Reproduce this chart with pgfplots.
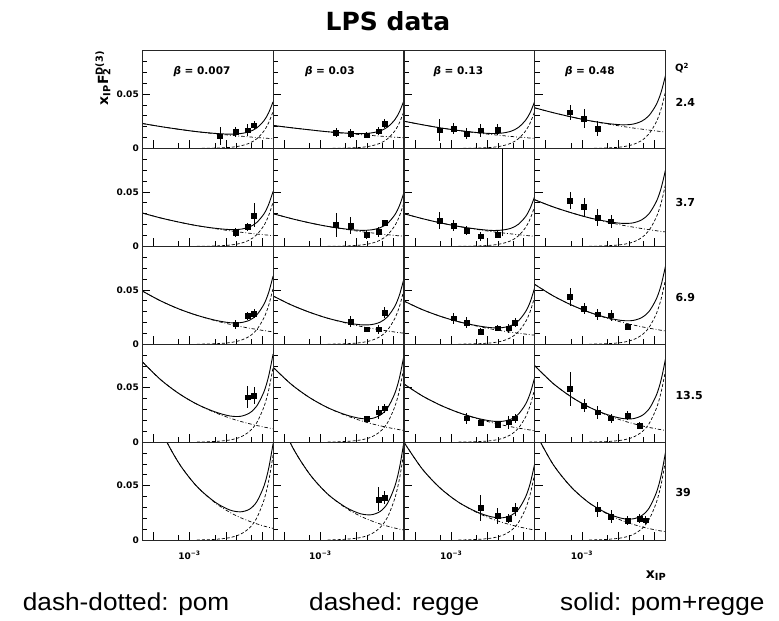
\documentclass[border=0pt]{standalone}
\usepackage{pgfplots}
\usepackage{pgfplotstable}
\pgfplotsset{compat=1.18}
\usepackage{fontspec}
\setmainfont{DejaVu Sans}
\newfontfamily\arial{Liberation Sans}[FakeStretch=1.07]

% ---------- model curves: x, pomeron, reggeon, sum ----------
\pgfplotstableread{
x pom reg tot
5e-5 0.0229 nan 0.0229
1.585e-4 0.0201 nan 0.0201
5.012e-4 0.0176 nan 0.0176
1.585e-3 0.0154 0 0.0154
5.012e-3 0.0135 0.0003 0.0138
0.01259 0.0122 0.0009 0.0131
0.02512 0.0113 0.0023 0.0136
0.04467 0.0106 0.0048 0.0154
0.07079 0.0100 0.0088 0.0188
0.1122 0.0095 0.0160 0.0255
0.1514 0.0092 0.0237 0.0329
0.2 0.0089 0.0340 0.0429
}\CurvAA
\pgfplotstableread{
x pom reg tot
5e-5 0.0211 nan 0.0211
1.585e-4 0.0190 nan 0.0190
5.012e-4 0.0171 nan 0.0171
1.585e-3 0.0153 0 0.0153
5.012e-3 0.0138 0.0003 0.0141
0.01259 0.0127 0.0009 0.0136
0.02512 0.0119 0.0023 0.0142
0.04467 0.0113 0.0048 0.0161
0.07079 0.0108 0.0088 0.0196
0.1122 0.0103 0.0160 0.0263
0.1514 0.0101 0.0237 0.0338
0.2 0.0098 0.0340 0.0438
}\CurvAB
\pgfplotstableread{
x pom reg tot
5e-5 0.0250 nan 0.0250
1.585e-4 0.0218 nan 0.0218
5.012e-4 0.0189 nan 0.0189
1.585e-3 0.0165 0 0.0165
5.012e-3 0.0143 0.0003 0.0146
0.01259 0.0128 0.0009 0.0137
0.02512 0.0118 0.0023 0.0141
0.04467 0.0110 0.0048 0.0158
0.07079 0.0104 0.0088 0.0192
0.1122 0.0099 0.0160 0.0259
0.1514 0.0095 0.0237 0.0332
0.2 0.0092 0.0340 0.0432
}\CurvAC
\pgfplotstableread{
x pom reg tot
5e-5 0.0373 nan 0.0373
1.585e-4 0.0329 nan 0.0329
5.012e-4 0.0290 nan 0.0290
1.585e-3 0.0255 0 0.0255
5.012e-3 0.0225 0.0004 0.0229
0.01259 0.0203 0.0014 0.0217
0.02512 0.0188 0.0035 0.0223
0.04467 0.0177 0.0074 0.0251
0.07079 0.0168 0.0135 0.0303
0.1122 0.0160 0.0245 0.0405
0.1514 0.0155 0.0362 0.0517
0.2 0.0150 0.0520 0.0670
}\CurvAD
\pgfplotstableread{
x pom reg tot
5e-5 0.0306 nan 0.0306
1.585e-4 0.0261 nan 0.0261
5.012e-4 0.0223 nan 0.0223
1.585e-3 0.0190 0 0.0190
5.012e-3 0.0163 0.0003 0.0166
0.01259 0.0143 0.0011 0.0154
0.02512 0.0130 0.0027 0.0157
0.04467 0.0120 0.0058 0.0178
0.07079 0.0113 0.0106 0.0219
0.1122 0.0106 0.0192 0.0298
0.1514 0.0102 0.0284 0.0386
0.2 0.0098 0.0407 0.0505
}\CurvBA
\pgfplotstableread{
x pom reg tot
5e-5 0.0300 nan 0.0300
1.585e-4 0.0255 nan 0.0255
5.012e-4 0.0216 nan 0.0216
1.585e-3 0.0183 0 0.0183
5.012e-3 0.0156 0.0003 0.0159
0.01259 0.0136 0.0011 0.0147
0.02512 0.0124 0.0027 0.0151
0.04467 0.0114 0.0057 0.0171
0.07079 0.0107 0.0104 0.0211
0.1122 0.0100 0.0189 0.0289
0.1514 0.0096 0.0279 0.0375
0.2 0.0092 0.0400 0.0492
}\CurvBB
\pgfplotstableread{
x pom reg tot
5e-5 0.0300 nan 0.0300
1.585e-4 0.0255 nan 0.0255
5.012e-4 0.0216 nan 0.0216
1.585e-3 0.0183 0 0.0183
5.012e-3 0.0156 0.0003 0.0159
0.01259 0.0136 0.0010 0.0146
0.02512 0.0124 0.0025 0.0149
0.04467 0.0114 0.0052 0.0166
0.07079 0.0107 0.0095 0.0202
0.1122 0.0100 0.0173 0.0273
0.1514 0.0096 0.0256 0.0352
0.2 0.0092 0.0367 0.0459
}\CurvBC
\pgfplotstableread{
x pom reg tot
5e-5 0.0428 nan 0.0428
1.585e-4 0.0363 nan 0.0363
5.012e-4 0.0309 nan 0.0309
1.585e-3 0.0262 0 0.0262
5.012e-3 0.0223 0.0005 0.0228
0.01259 0.0195 0.0016 0.0211
0.02512 0.0177 0.0038 0.0215
0.04467 0.0163 0.0081 0.0244
0.07079 0.0153 0.0148 0.0301
0.1122 0.0143 0.0269 0.0412
0.1514 0.0137 0.0397 0.0534
0.2 0.0132 0.0570 0.0702
}\CurvBD
\pgfplotstableread{
x pom reg tot
5e-5 0.0489 nan 0.0489
1.585e-4 0.0399 nan 0.0399
5.012e-4 0.0325 nan 0.0325
1.585e-3 0.0266 0 0.0266
5.012e-3 0.0217 0.0004 0.0221
0.01259 0.0184 0.0014 0.0198
0.02512 0.0163 0.0035 0.0198
0.04467 0.0147 0.0073 0.0220
0.07079 0.0136 0.0133 0.0269
0.1122 0.0125 0.0243 0.0368
0.1514 0.0119 0.0358 0.0477
0.2 0.0113 0.0514 0.0627
}\CurvCA
\pgfplotstableread{
x pom reg tot
5e-5 0.0443 nan 0.0443
1.585e-4 0.0361 nan 0.0361
5.012e-4 0.0294 nan 0.0294
1.585e-3 0.0239 0 0.0239
5.012e-3 0.0195 0.0004 0.0199
0.01259 0.0165 0.0014 0.0179
0.02512 0.0146 0.0034 0.0180
0.04467 0.0132 0.0071 0.0203
0.07079 0.0122 0.0130 0.0252
0.1122 0.0112 0.0236 0.0348
0.1514 0.0106 0.0348 0.0454
0.2 0.0101 0.0500 0.0601
}\CurvCB
\pgfplotstableread{
x pom reg tot
5e-5 0.0397 nan 0.0397
1.585e-4 0.0319 nan 0.0319
5.012e-4 0.0257 nan 0.0257
1.585e-3 0.0207 0 0.0207
5.012e-3 0.0167 0.0004 0.0171
0.01259 0.0140 0.0012 0.0152
0.02512 0.0123 0.0029 0.0152
0.04467 0.0110 0.0062 0.0172
0.07079 0.0101 0.0113 0.0214
0.1122 0.0093 0.0206 0.0299
0.1514 0.0087 0.0304 0.0391
0.2 0.0083 0.0437 0.0520
}\CurvCC
\pgfplotstableread{
x pom reg tot
5e-5 0.0550 nan 0.0550
1.585e-4 0.0446 nan 0.0446
5.012e-4 0.0362 nan 0.0362
1.585e-3 0.0294 0 0.0294
5.012e-3 0.0238 0.0005 0.0243
0.01259 0.0202 0.0016 0.0218
0.02512 0.0178 0.0040 0.0218
0.04467 0.0160 0.0085 0.0245
0.07079 0.0147 0.0155 0.0302
0.1122 0.0136 0.0281 0.0417
0.1514 0.0128 0.0415 0.0543
0.2 0.0122 0.0596 0.0718
}\CurvCD
\pgfplotstableread{
x pom reg tot
5e-5 0.0739 nan 0.0739
1.585e-4 0.0575 nan 0.0575
5.012e-4 0.0448 nan 0.0448
1.585e-3 0.0349 0 0.0349
5.012e-3 0.0272 0.0006 0.0278
0.01259 0.0222 0.0019 0.0241
0.02512 0.0191 0.0046 0.0237
0.04467 0.0169 0.0098 0.0267
0.07079 0.0153 0.0178 0.0331
0.1122 0.0138 0.0325 0.0463
0.1514 0.0130 0.0479 0.0609
0.2 0.0122 0.0688 0.0810
}\CurvDA
\pgfplotstableread{
x pom reg tot
5e-5 0.0688 nan 0.0688
1.585e-4 0.0531 nan 0.0531
5.012e-4 0.0410 nan 0.0410
1.585e-3 0.0317 0 0.0317
5.012e-3 0.0245 0.0006 0.0251
0.01259 0.0199 0.0019 0.0218
0.02512 0.0170 0.0046 0.0216
0.04467 0.0150 0.0098 0.0248
0.07079 0.0135 0.0178 0.0313
0.1122 0.0122 0.0325 0.0447
0.1514 0.0114 0.0479 0.0593
0.2 0.0107 0.0688 0.0795
}\CurvDB
\pgfplotstableread{
x pom reg tot
5e-5 0.0535 nan 0.0535
1.585e-4 0.0426 nan 0.0426
5.012e-4 0.0340 nan 0.0340
1.585e-3 0.0272 0 0.0272
5.012e-3 0.0217 0.0004 0.0221
0.01259 0.0181 0.0013 0.0194
0.02512 0.0158 0.0033 0.0191
0.04467 0.0141 0.0070 0.0211
0.07079 0.0129 0.0127 0.0256
0.1122 0.0118 0.0231 0.0349
0.1514 0.0111 0.0341 0.0452
0.2 0.0105 0.0490 0.0595
}\CurvDC
\pgfplotstableread{
x pom reg tot
5e-5 0.0703 nan 0.0703
1.585e-4 0.0541 nan 0.0541
5.012e-4 0.0417 nan 0.0417
1.585e-3 0.0321 0 0.0321
5.012e-3 0.0247 0.0005 0.0252
0.01259 0.0200 0.0018 0.0218
0.02512 0.0171 0.0044 0.0215
0.04467 0.0150 0.0094 0.0244
0.07079 0.0135 0.0170 0.0305
0.1122 0.0122 0.0310 0.0432
0.1514 0.0114 0.0458 0.0572
0.2 0.0107 0.0657 0.0764
}\CurvDD
\pgfplotstableread{
x pom reg tot
5e-5 0.147 nan 0.147
1.585e-4 0.1021 nan 0.1021
5.012e-4 0.0710 nan 0.0710
1.585e-3 0.0493 0 0.0493
5.012e-3 0.0343 0.0006 0.0349
0.01259 0.0256 0.0021 0.0277
0.02512 0.0206 0.0053 0.0259
0.04467 0.0172 0.0111 0.0283
0.07079 0.0149 0.0202 0.0351
0.1122 0.0128 0.0368 0.0496
0.1514 0.0117 0.0543 0.0660
0.2 0.0107 0.0780 0.0887
}\CurvEA
\pgfplotstableread{
x pom reg tot
5e-5 0.126 nan 0.126
1.585e-4 0.0875 nan 0.0875
5.012e-4 0.0608 nan 0.0608
1.585e-3 0.0423 0 0.0423
5.012e-3 0.0294 0.0007 0.0301
0.01259 0.0220 0.0022 0.0242
0.02512 0.0177 0.0055 0.0232
0.04467 0.0147 0.0116 0.0263
0.07079 0.0127 0.0210 0.0337
0.1122 0.0110 0.0382 0.0492
0.1514 0.0100 0.0564 0.0664
0.2 0.0092 0.0810 0.0902
}\CurvEB
\pgfplotstableread{
x pom reg tot
5e-5 0.0900 nan 0.0900
1.585e-4 0.0655 nan 0.0655
5.012e-4 0.0477 nan 0.0477
1.585e-3 0.0348 0 0.0348
5.012e-3 0.0254 0.0005 0.0259
0.01259 0.0197 0.0017 0.0214
0.02512 0.0163 0.0041 0.0204
0.04467 0.0139 0.0087 0.0226
0.07079 0.0122 0.0158 0.0280
0.1122 0.0108 0.0288 0.0396
0.1514 0.0099 0.0425 0.0524
0.2 0.0092 0.0610 0.0702
}\CurvEC
\pgfplotstableread{
x pom reg tot
5e-5 0.0999 nan 0.0999
1.585e-4 0.0698 nan 0.0698
5.012e-4 0.0488 nan 0.0488
1.585e-3 0.0341 0 0.0341
5.012e-3 0.0239 0.0006 0.0245
0.01259 0.0179 0.0020 0.0199
0.02512 0.0145 0.0049 0.0194
0.04467 0.0121 0.0104 0.0225
0.07079 0.0105 0.0189 0.0294
0.1122 0.0091 0.0345 0.0436
0.1514 0.0083 0.0509 0.0592
0.2 0.0076 0.0730 0.0806
}\CurvED

% ---------- measured points: x, value, error ----------
\pgfplotstableread{
x y e
6.9e-3 0.0113 0.008
0.0187 0.0153 0.0046
0.0401 0.0168 0.0055
0.0597 0.0214 0.004
}\DataAA
\pgfplotstableread{
x y e
2.7e-3 0.0144 0.004
6.9e-3 0.0138 0.004
0.019 0.0122 0.003
0.0405 0.0159 0.004
0.0593 0.0229 0.004
}\DataAB
\pgfplotstableread{
x y e
4.9e-4 0.0168 0.010
1.15e-3 0.0180 0.005
2.7e-3 0.0135 0.005
6.5e-3 0.0168 0.006
0.0187 0.0174 0.005
}\DataAC
\pgfplotstableread{
x y e
4.7e-4 0.0333 0.007
1.14e-3 0.0275 0.009
2.65e-3 0.0183 0.007
}\DataAD
\pgfplotstableread{
x y e
0.0187 0.0128 0.004
0.040 0.0178 0.004
0.0597 0.0284 0.011
}\DataBA
\pgfplotstableread{
x y e
2.7e-3 0.0199 0.011
6.9e-3 0.0193 0.008
0.019 0.0107 0.004
0.0405 0.0132 0.005
0.0593 0.0214 0.003
}\DataBB
\pgfplotstableread{
x y e
4.9e-4 0.0236 0.008
1.15e-3 0.0193 0.005
2.7e-3 0.0147 0.004
6.5e-3 0.0092 0.004
0.0187 0.0107 0.003
}\DataBC
\pgfplotstableread{
x y e
4.7e-4 0.0420 0.008
1.14e-3 0.0361 0.008
2.65e-3 0.0266 0.008
6.3e-3 0.0230 0.006
}\DataBD
\pgfplotstableread{
x y e
0.0187 0.0183 0.004
0.040 0.0260 0.004
0.0597 0.0281 0.004
}\DataCA
\pgfplotstableread{
x y e
6.9e-3 0.0205 0.005
0.019 0.0138 0.002
0.0405 0.0138 0.004
0.0593 0.0290 0.005
}\DataCB
\pgfplotstableread{
x y e
1.15e-3 0.0239 0.005
2.7e-3 0.0199 0.005
6.5e-3 0.0117 0.003
0.0187 0.0147 0.003
0.0376 0.0147 0.004
0.0575 0.0199 0.004
}\DataCC
\pgfplotstableread{
x y e
4.7e-4 0.0434 0.008
1.14e-3 0.0327 0.005
2.65e-3 0.0275 0.005
6.3e-3 0.0266 0.005
0.0178 0.0159 0.003
}\DataCD
\pgfplotstableread{
x y e
0.040 0.0413 0.010
0.0597 0.0428 0.008
}\DataDA
\pgfplotstableread{
x y e
0.019 0.0214 0.003
0.0405 0.0275 0.006
0.0593 0.0312 0.004
}\DataDB
\pgfplotstableread{
x y e
2.7e-3 0.0220 0.005
6.5e-3 0.0177 0.003
0.0187 0.0162 0.003
0.0376 0.0183 0.006
0.0575 0.0220 0.004
}\DataDC
\pgfplotstableread{
x y e
4.7e-4 0.0489 0.016
1.14e-3 0.0336 0.006
2.65e-3 0.0275 0.006
6.3e-3 0.0220 0.004
0.0178 0.0244 0.004
0.0381 0.0153 0.003
}\DataDD
\pgfplotstableread{
x y e
0.0405 0.0373 0.011
0.0593 0.0388 0.006
}\DataEB
\pgfplotstableread{
x y e
6.5e-3 0.0297 0.012
0.0187 0.0220 0.007
0.0376 0.0199 0.004
0.0575 0.0284 0.006
}\DataEC
\pgfplotstableread{
x y e
2.65e-3 0.0284 0.007
6.3e-3 0.0214 0.006
0.0178 0.0177 0.004
0.0381 0.0199 0.004
0.0571 0.0183 0.004
}\DataED

\newcommand{\tickfont}{\fontsize{9}{10}\selectfont\bfseries}

\pgfplotsset{
  every axis/.append style={
    scale only axis, width=130.8pt, height=97.9pt, anchor=north west,
    xmin=5e-5, xmax=0.2, ymin=0, ymax=0.09,
    xtick={1e-4,1e-3,1e-2,1e-1}, minor xtick={5e-4,5e-3,2e-2,5e-2},
    ytick={0,0.05}, minor ytick={0.01,0.02,0.03,0.04,0.06,0.07,0.08},
    xticklabels={}, yticklabels={}, scaled y ticks=false,
    xtick pos=bottom, ytick pos=left, tick align=inside,
    major tick length=8pt, minor tick length=5pt,
    tick style={black, line width=0.6pt},
    axis line style={line width=0.8pt, black!85},
    tick label style={font=\tickfont},
    axis on top,
  },
}

\newcommand{\curves}[1]{%
  \addplot[black, line width=0.7pt, smooth, dash pattern=on 3.5pt off 2pt on 0.8pt off 2pt]
    table[x=x,y=pom] {#1};
  \addplot[black, line width=0.7pt, smooth, dash pattern=on 3pt off 2pt]
    table[x=x,y=reg] {#1};
  \addplot[black, line width=0.9pt, smooth] table[x=x,y=tot] {#1};}
\newcommand{\points}[1]{%
  \addplot[black, only marks, mark=square*, mark size=2.4pt,
    error bars/.cd, y dir=both, y explicit, error mark=none,
    error bar style={line width=0.8pt}]
    table[x=x,y=y,y error=e] {#1};}

\begin{document}
\begin{tikzpicture}
\useasboundingbox (0,0) rectangle (779pt,-621pt);

% row 1: Q^2 = 2.4
\begin{semilogxaxis}[at={(142.3pt,-50.5pt)}, yticklabels={0,0.05}]
  \curves{\CurvAA}\points{\DataAA}
\end{semilogxaxis}
\begin{semilogxaxis}[at={(273.1pt,-50.5pt)}]
  \curves{\CurvAB}\points{\DataAB}
\end{semilogxaxis}
\begin{semilogxaxis}[at={(403.9pt,-50.5pt)}]
  \curves{\CurvAC}\points{\DataAC}
\end{semilogxaxis}
\begin{semilogxaxis}[at={(534.7pt,-50.5pt)}]
  \curves{\CurvAD}\points{\DataAD}
\end{semilogxaxis}

% row 2: Q^2 = 3.7
\begin{semilogxaxis}[at={(142.3pt,-148.4pt)}, yticklabels={0,0.05}]
  \curves{\CurvBA}\points{\DataBA}
\end{semilogxaxis}
\begin{semilogxaxis}[at={(273.1pt,-148.4pt)}]
  \curves{\CurvBB}\points{\DataBB}
\end{semilogxaxis}
\begin{semilogxaxis}[at={(403.9pt,-148.4pt)}]
  \curves{\CurvBC}\points{\DataBC}
  % point whose error bar runs off the top of the panel
  \addplot[black, line width=0.8pt] coordinates {(0.0264,0.0092) (0.0264,0.09)};
\end{semilogxaxis}
\begin{semilogxaxis}[at={(534.7pt,-148.4pt)}]
  \curves{\CurvBD}\points{\DataBD}
\end{semilogxaxis}

% row 3: Q^2 = 6.9
\begin{semilogxaxis}[at={(142.3pt,-246.3pt)}, yticklabels={0,0.05}]
  \curves{\CurvCA}\points{\DataCA}
\end{semilogxaxis}
\begin{semilogxaxis}[at={(273.1pt,-246.3pt)}]
  \curves{\CurvCB}\points{\DataCB}
\end{semilogxaxis}
\begin{semilogxaxis}[at={(403.9pt,-246.3pt)}]
  \curves{\CurvCC}\points{\DataCC}
\end{semilogxaxis}
\begin{semilogxaxis}[at={(534.7pt,-246.3pt)}]
  \curves{\CurvCD}\points{\DataCD}
\end{semilogxaxis}

% row 4: Q^2 = 13.5
\begin{semilogxaxis}[at={(142.3pt,-344.2pt)}, yticklabels={0,0.05}]
  \curves{\CurvDA}\points{\DataDA}
\end{semilogxaxis}
\begin{semilogxaxis}[at={(273.1pt,-344.2pt)}]
  \curves{\CurvDB}\points{\DataDB}
\end{semilogxaxis}
\begin{semilogxaxis}[at={(403.9pt,-344.2pt)}]
  \curves{\CurvDC}\points{\DataDC}
\end{semilogxaxis}
\begin{semilogxaxis}[at={(534.7pt,-344.2pt)}]
  \curves{\CurvDD}\points{\DataDD}
\end{semilogxaxis}

% row 5: Q^2 = 39
\begin{semilogxaxis}[at={(142.3pt,-442.1pt)}, yticklabels={0,0.05},
    xticklabels={,10\textsuperscript{−3},,}, xticklabel style={yshift=-8pt}]
  \curves{\CurvEA}
\end{semilogxaxis}
\begin{semilogxaxis}[at={(273.1pt,-442.1pt)},
    xticklabels={,10\textsuperscript{−3},,}, xticklabel style={yshift=-8pt}]
  \curves{\CurvEB}\points{\DataEB}
\end{semilogxaxis}
\begin{semilogxaxis}[at={(403.9pt,-442.1pt)},
    xticklabels={,10\textsuperscript{−3},,}, xticklabel style={yshift=-8pt}]
  \curves{\CurvEC}\points{\DataEC}
\end{semilogxaxis}
\begin{semilogxaxis}[at={(534.7pt,-442.1pt)},
    xticklabels={,10\textsuperscript{−3},,}, xticklabel style={yshift=-8pt}]
  \curves{\CurvED}\points{\DataED}
\end{semilogxaxis}

% title and annotations
\node[anchor=base, font=\fontsize{25}{30}\selectfont\bfseries] at (388pt,-30pt) {LPS data};

\begin{scope}[every node/.style={anchor=west, font=\fontsize{10.5}{12}\selectfont\bfseries}]
  \node at (170pt,-72pt) {\textit{β} = 0.007};
  \node at (301.5pt,-72pt) {\textit{β} = 0.03};
  \node at (430pt,-72pt) {\textit{β} = 0.13};
  \node at (561.5pt,-72pt) {\textit{β} = 0.48};
\end{scope}

\begin{scope}[every node/.style={anchor=west, font=\fontsize{11}{13}\selectfont\bfseries}]
  \node at (672pt,-102pt) {2.4};
  \node at (672pt,-202.5pt) {3.7};
  \node at (672pt,-297.5pt) {6.9};
  \node at (672pt,-395.5pt) {13.5};
  \node at (672pt,-492pt) {39};
\end{scope}
\node[font=\fontsize{10}{11}\selectfont\bfseries] at (682pt,-68pt) {Q\textsuperscript{2}};

\node[rotate=90, font=\fontsize{14}{16}\selectfont\bfseries] at (103pt,-78pt)
  {x\textsubscript{IP}F\rlap{\textsubscript{2}}\textsuperscript{D(3)}};
\node[font=\fontsize{14}{16}\selectfont\bfseries] at (656pt,-576pt) {x\textsubscript{IP}};

\begin{scope}[every node/.style={anchor=base west, inner sep=0pt,
    font=\fontsize{24.5}{28}\selectfont\arial}]
  \node at (22.7pt,-610.7pt) {dash-dotted: pom};
  \node at (309pt,-610.7pt) {dashed: regge};
  \node at (560pt,-610.7pt) {solid: pom+regge};
\end{scope}
\end{tikzpicture}
\end{document}
